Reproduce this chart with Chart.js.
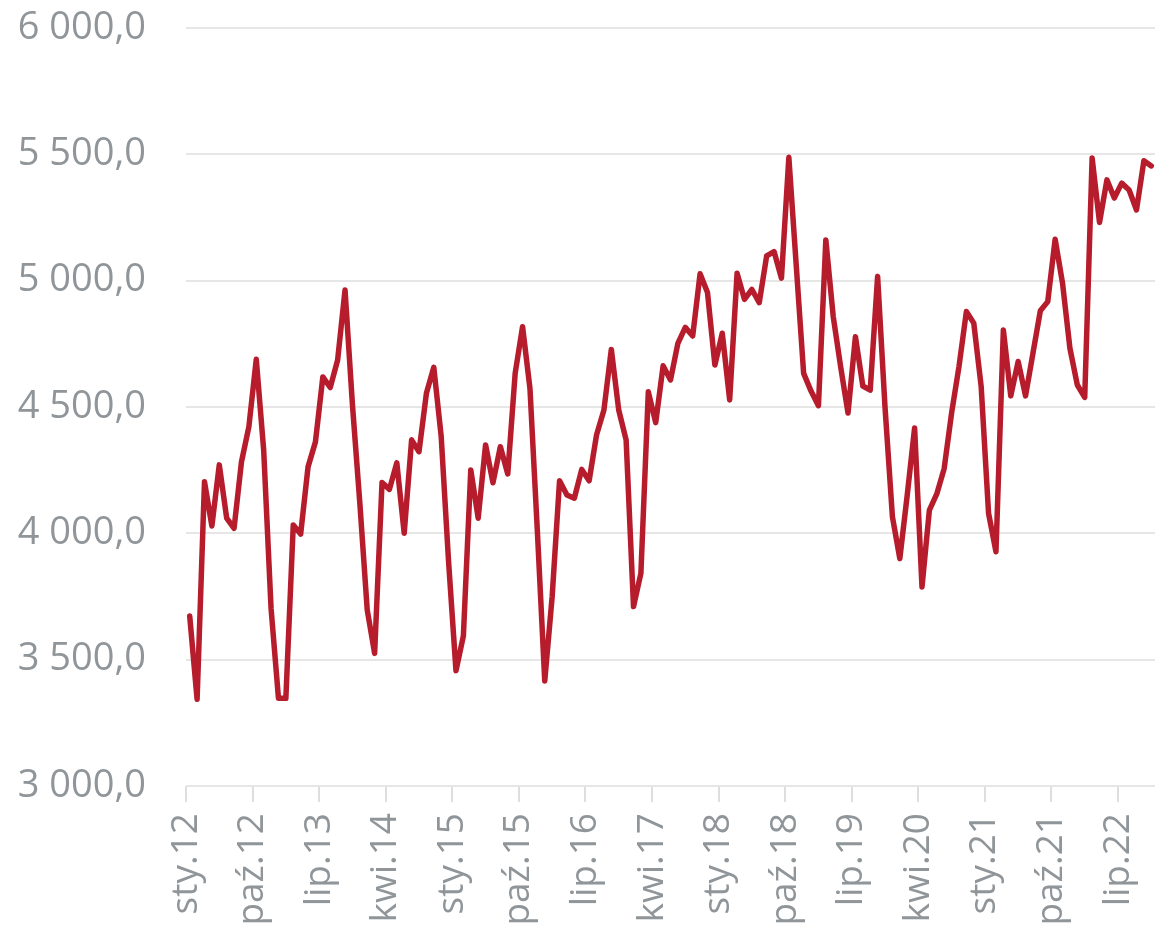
<!DOCTYPE html>
<html>
<head>
<meta charset="utf-8">
<script src="https://cdn.jsdelivr.net/npm/chart.js@4"></script>
<style>
  html, body { margin: 0; padding: 0; background: #fff; }
</style>
</head>
<body>
<canvas id="chart" width="1158" height="925"></canvas>
<script>
const monthNames = ["sty", "lut", "mar", "kwi", "maj", "cze", "lip", "sie", "wrz", "paź", "lis", "gru"];
const years = ["12", "13", "14", "15", "16", "17", "18", "19", "20", "21", "22"];

// monthly values, one array per year
const values2012 = [3673, 3343, 4204, 4029, 4271, 4060, 4020, 4283, 4422, 4689, 4330, 3703];
const values2013 = [3347, 3347, 4033, 3997, 4263, 4362, 4619, 4577, 4686, 4963, 4510, 4120];
const values2014 = [3697, 3525, 4201, 4174, 4279, 4000, 4370, 4323, 4554, 4657, 4383, 3887];
const values2015 = [3456, 3594, 4251, 4060, 4350, 4200, 4343, 4235, 4633, 4818, 4574, 4010];
const values2016 = [3416, 3749, 4208, 4152, 4139, 4253, 4208, 4389, 4488, 4728, 4488, 4370];
const values2017 = [3710, 3842, 4560, 4438, 4663, 4607, 4752, 4815, 4781, 5027, 4953, 4666];
const values2018 = [4792, 4528, 5029, 4926, 4965, 4913, 5098, 5115, 5010, 5488, 5060, 4633];
const values2019 = [4563, 4505, 5161, 4858, 4660, 4476, 4778, 4583, 4567, 5017, 4500, 4066];
const values2020 = [3900, 4150, 4417, 3788, 4092, 4156, 4257, 4476, 4660, 4878, 4832, 4581];
const values2021 = [4079, 3927, 4805, 4544, 4680, 4544, 4713, 4881, 4917, 5164, 4990, 4732];
const values2022 = [4587, 4538, 5485, 5230, 5399, 5327, 5386, 5359, 5280, 5475, 5454];

const yTicks = [3000, 3500, 4000, 4500, 5000, 5500, 6000];
const labelEvery = 9;

const values = [].concat(values2012, values2013, values2014, values2015, values2016,
  values2017, values2018, values2019, values2020, values2021, values2022);

const labels = [];
years.forEach((yy) => {
  monthNames.forEach((m) => labels.push(m + "." + yy));
});

// each month sits in the middle of its slot, labels sit on the slot edges
const points = values.map((v, i) => ({ x: i + 0.5, y: v }));

function formatValue(v) {
  const thousands = Math.floor(v / 1000);
  const rest = String(v % 1000).padStart(3, "0");
  return thousands + " " + rest + ",0";
}

Chart.defaults.font.family = "'Open Sans', sans-serif";
const textGrey = "#8f9599";

const ctx = document.getElementById("chart").getContext("2d");
const chart = new Chart(ctx, {
  type: "line",
  data: {
    datasets: [
      {
        data: points,
        borderColor: "#b71c2c",
        borderWidth: 5.5,
        pointRadius: 0,
        tension: 0,
        borderJoinStyle: "round",
        borderCapStyle: "round",
        fill: false,
      },
    ],
  },
  options: {
    responsive: false,
    animation: false,
    layout: {
      padding: { left: 18, top: 28, right: 3, bottom: 0 },
    },
    plugins: {
      legend: { display: false },
      tooltip: { enabled: false },
    },
    scales: {
      x: {
        type: "linear",
        min: 0,
        max: values.length,
        afterFit: (scale) => {
          scale.height = 139;
          scale.paddingLeft = 0;
          scale.paddingRight = 0;
        },
        border: { display: false },
        grid: {
          drawOnChartArea: false,
          drawTicks: true,
          tickLength: 16,
          color: "#dedede",
          lineWidth: 2,
        },
        ticks: {
          stepSize: labelEvery,
          includeBounds: false,
          autoSkip: false,
          minRotation: 90,
          maxRotation: 90,
          padding: 11,
          color: textGrey,
          font: { size: 37 },
          callback: (value) => labels[value] || "",
        },
      },
      y: {
        min: yTicks[0],
        max: yTicks[yTicks.length - 1],
        afterFit: (scale) => {
          scale.width = 168;
          scale.paddingTop = 0;
          scale.paddingBottom = 0;
        },
        afterBuildTicks: (scale) => {
          scale.ticks = yTicks.map((v) => ({ value: v }));
        },
        border: { display: false },
        grid: {
          color: "#e6e6e6",
          lineWidth: 2,
          drawTicks: false,
        },
        ticks: {
          padding: 40,
          color: textGrey,
          font: { size: 38 },
          callback: (value) => formatValue(value),
        },
      },
    },
  },
});
</script>
</body>
</html>
